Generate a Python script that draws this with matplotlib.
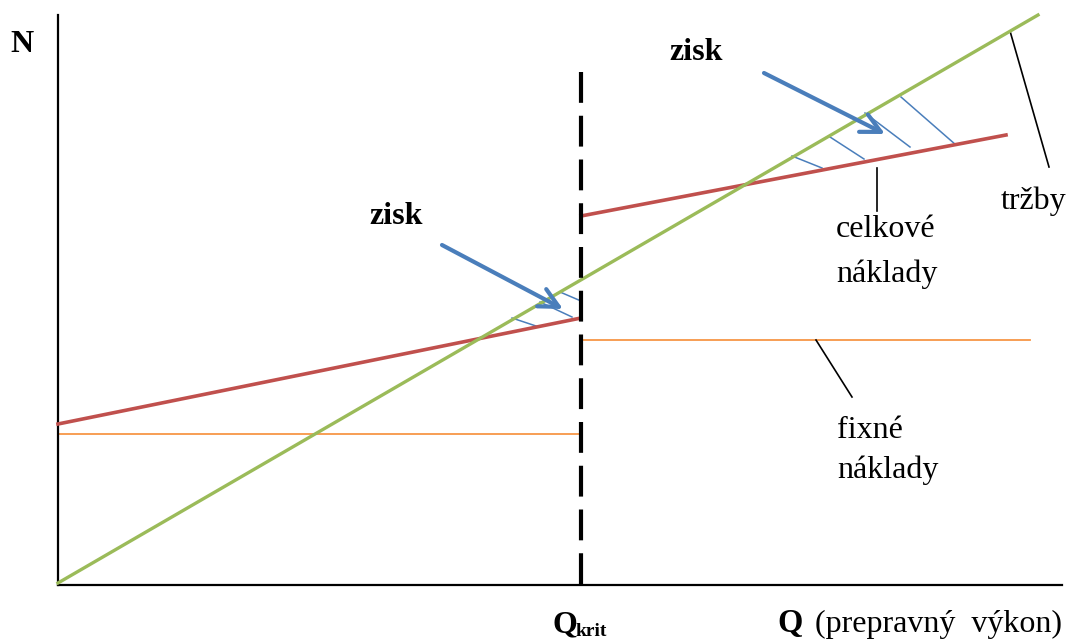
import numpy as np
import matplotlib
matplotlib.use("Agg")
import matplotlib.pyplot as plt

# Schéma bodu zvratu (jednotky ~ pixely od počiatku osí)
Q_MAX = 1004
N_MAX = 570
Q_KRIT = 523
KRIT_TOP = 513

# tržby
trzby_q = [0, 980]
trzby_n = [2, 570]

# celkové náklady (pred a za Q_krit)
celk1_q = [0, 523]
celk1_n = [161, 267]
celk2_q = [523, 948]
celk2_n = [369, 450]

# fixné náklady
fix1_q = [0, 523]
fix1_n = [151, 151]
fix2_q = [523, 972]
fix2_n = [245, 245]

# šrafovanie zisku
hatch_q0 = [454, 482, 502, 734, 772, 807, 843]
hatch_n0 = [267, 283, 293, 429, 448, 472, 488]
hatch_q1 = [481, 514, 523, 764, 806, 852, 898]
hatch_n1 = [258, 268, 284, 417, 426, 438, 440]

# šípky "zisk"
arrow_tail = [(384, 340), (706, 512)]
arrow_tip = [(505, 276), (827, 451)]

# popisné čiary
leader_q0 = [952, 819, 758]
leader_n0 = [554, 417, 245]
leader_q1 = [991, 819, 794]
leader_n1 = [418, 374, 188]

GREEN = '#9BBB59'
RED = '#C0504D'
ORANGE = '#F79646'
BLUE = '#4A7EBB'
SERIF = ['Liberation Serif', 'DejaVu Serif']
FS = 23

fig = plt.figure(figsize=(10.67, 6.4), dpi=100)
ax = fig.add_axes([58 / 1067, 55 / 640, Q_MAX / 1067, N_MAX / 640])
ax.set_xlim(0, Q_MAX)
ax.set_ylim(0, N_MAX)
ax.set_xticks([])
ax.set_yticks([])
for s in ['top', 'right']:
    ax.spines[s].set_visible(False)
for s in ['left', 'bottom']:
    ax.spines[s].set_linewidth(1.6)
    ax.spines[s].set_color('black')

# čiary
ax.plot(fix1_q, fix1_n, color=ORANGE, lw=1.3, clip_on=False, zorder=2)
ax.plot(fix2_q, fix2_n, color=ORANGE, lw=1.3, clip_on=False, zorder=2)
ax.plot(celk1_q, celk1_n, color=RED, lw=2.6, clip_on=False, zorder=3)
ax.plot(celk2_q, celk2_n, color=RED, lw=2.6, clip_on=False, zorder=3)
ax.plot(trzby_q, trzby_n, color=GREEN, lw=2.4, clip_on=False, zorder=3)

# prerušovaná čiara Q_krit (kreslená zhora nadol)
ax.plot([Q_KRIT, Q_KRIT], [KRIT_TOP, 0], color='black', lw=3,
        dashes=(7.4, 3.1), solid_capstyle='butt', clip_on=False, zorder=4)

for q0, n0, q1, n1 in zip(hatch_q0, hatch_n0, hatch_q1, hatch_n1):
    ax.plot([q0, q1], [n0, n1], color=BLUE, lw=1.1, zorder=2)

for tail, tip in zip(arrow_tail, arrow_tip):
    ax.annotate('', xy=tip, xytext=tail,
                arrowprops=dict(arrowstyle='->,head_length=1.4,head_width=0.7',
                                color=BLUE, lw=3, shrinkA=0, shrinkB=0),
                zorder=5)

for q0, n0, q1, n1 in zip(leader_q0, leader_n0, leader_q1, leader_n1):
    ax.plot([q0, q1], [n0, n1], color='black', lw=1.2, clip_on=False)

# texty
def label(x, y, s, **kw):
    kw.setdefault('fontsize', FS)
    kw.setdefault('va', 'baseline')
    ax.text(x, y, s, family=SERIF, clip_on=False, **kw)

label(-36, 541, 'N', fontweight='bold', ha='center', va='center')
label(311, 361, 'zisk', fontweight='bold')
label(611, 525, 'zisk', fontweight='bold')
label(943, 376, 'tržby')
label(778, 348, 'celkové')
label(778, 303, 'náklady')
label(779, 147, 'fixné')
label(779, 107, 'náklady')
label(495, -47, 'Q', fontweight='bold')
label(518, -51, 'krit', fontweight='bold', fontsize=14)
label(719, -47, 'Q', fontweight='bold', fontsize=23.5)
label(1004, -47, '(prepravný  výkon)', ha='right', fontsize=23)

fig.savefig('out.png', dpi=100, facecolor='white')
